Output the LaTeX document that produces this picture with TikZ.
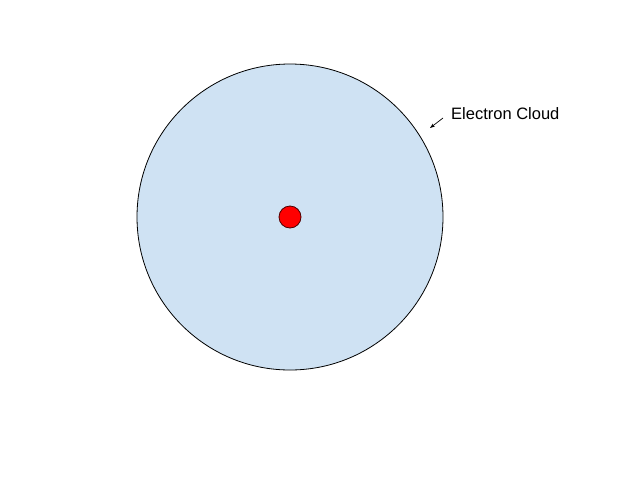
\documentclass[tikz,border=0pt]{standalone}
\usepackage{fontspec}
\setmainfont{Liberation Sans}
\usetikzlibrary{arrows.meta}
\definecolor{cloudblue}{RGB}{207,226,243}
\tikzset{
  px/.style={x=1pt,y=-1pt},
  cloud/.style={draw=black, fill=cloudblue, line width=0.8pt},
  nucleus/.style={draw=black!70!red, fill=red, line width=0.8pt},
  pointer/.style={-{Stealth[length=5pt,width=3.5pt]}, line width=0.7pt},
  label/.style={font=\fontsize{16.5}{18}\selectfont, inner sep=0pt, anchor=west}
}
\begin{document}
\begin{tikzpicture}[px]
\useasboundingbox (0,0) rectangle (640,480);
\node[cloud, circle, minimum size=306pt, inner sep=0pt] (cloudc) at (290,217) {};
\node[nucleus, circle, minimum size=22pt, inner sep=0pt] (nuc) at (290,217) {};
\node[label] (lbl) at (451,114) {Electron Cloud};
\coordinate (ptrstart) at (443,118);
\coordinate (ptrend) at (430,128);
\draw[pointer] (ptrstart) -- (ptrend);
\end{tikzpicture}
\end{document}
